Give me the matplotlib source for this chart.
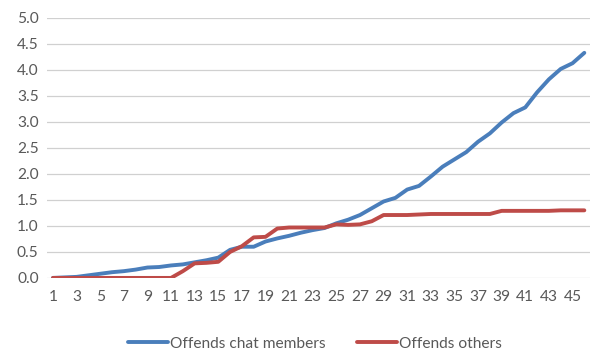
import numpy as np
import matplotlib.pyplot as plt
import matplotlib

matplotlib.rcParams['font.family'] = ['Lato', 'DejaVu Sans']

# ---- data ----
x = np.arange(1, 47)

chat_members = [0.00, 0.01, 0.02, 0.05, 0.08, 0.11, 0.13, 0.16, 0.20, 0.21,
                0.24, 0.26, 0.30, 0.34, 0.39, 0.54, 0.60, 0.60, 0.70, 0.76,
                0.81, 0.87, 0.92, 0.96, 1.05, 1.12, 1.21, 1.34, 1.47, 1.54,
                1.70, 1.77, 1.95, 2.14, 2.28, 2.42, 2.62, 2.78, 2.99, 3.17,
                3.28, 3.57, 3.82, 4.02, 4.13, 4.33]

others = [0.00, 0.00, 0.00, 0.00, 0.00, 0.00, 0.00, 0.00, 0.00, 0.00,
          0.00, 0.13, 0.28, 0.29, 0.31, 0.50, 0.61, 0.78, 0.79, 0.95,
          0.97, 0.97, 0.97, 0.97, 1.03, 1.02, 1.03, 1.09, 1.21, 1.21,
          1.21, 1.22, 1.23, 1.23, 1.23, 1.23, 1.23, 1.23, 1.29, 1.29,
          1.29, 1.29, 1.29, 1.30, 1.30, 1.30]

yticks = np.arange(0, 5.01, 0.5)
txt = '#595959'

fig = plt.figure(figsize=(6.11, 3.6), dpi=100)
ax = fig.add_axes([0.077, 0.228, 0.889, 0.722])

ax.plot(x, chat_members, color='#4A7EBB', lw=2.8, label='Offends chat members',
        solid_capstyle='round', solid_joinstyle='round')
ax.plot(x, others, color='#BE4B48', lw=2.8, label='Offends others',
        solid_capstyle='round', solid_joinstyle='round')

ax.set_xlim(0.5, 46.5)
ax.set_ylim(0, 5.0)
ax.set_yticks(yticks)
ax.set_yticklabels([f'{v:.1f}' for v in yticks])
ax.set_xticks(np.arange(1, 47, 2))
ax.grid(axis='y', color='#D0D0D0', lw=0.9)
ax.set_axisbelow(True)
for s in ax.spines.values():
    s.set_visible(False)
ax.tick_params(length=0, colors=txt, labelsize=11.2)
ax.tick_params(axis='x', pad=9)
ax.tick_params(axis='y', pad=6)

fig.legend(loc='center', bbox_to_anchor=(0.515, 0.045), ncol=2, frameon=False,
           fontsize=11.2, labelcolor=txt, handlelength=2.6, handletextpad=0.1,
           columnspacing=2.0)

plt.savefig('out.png', dpi=100)
